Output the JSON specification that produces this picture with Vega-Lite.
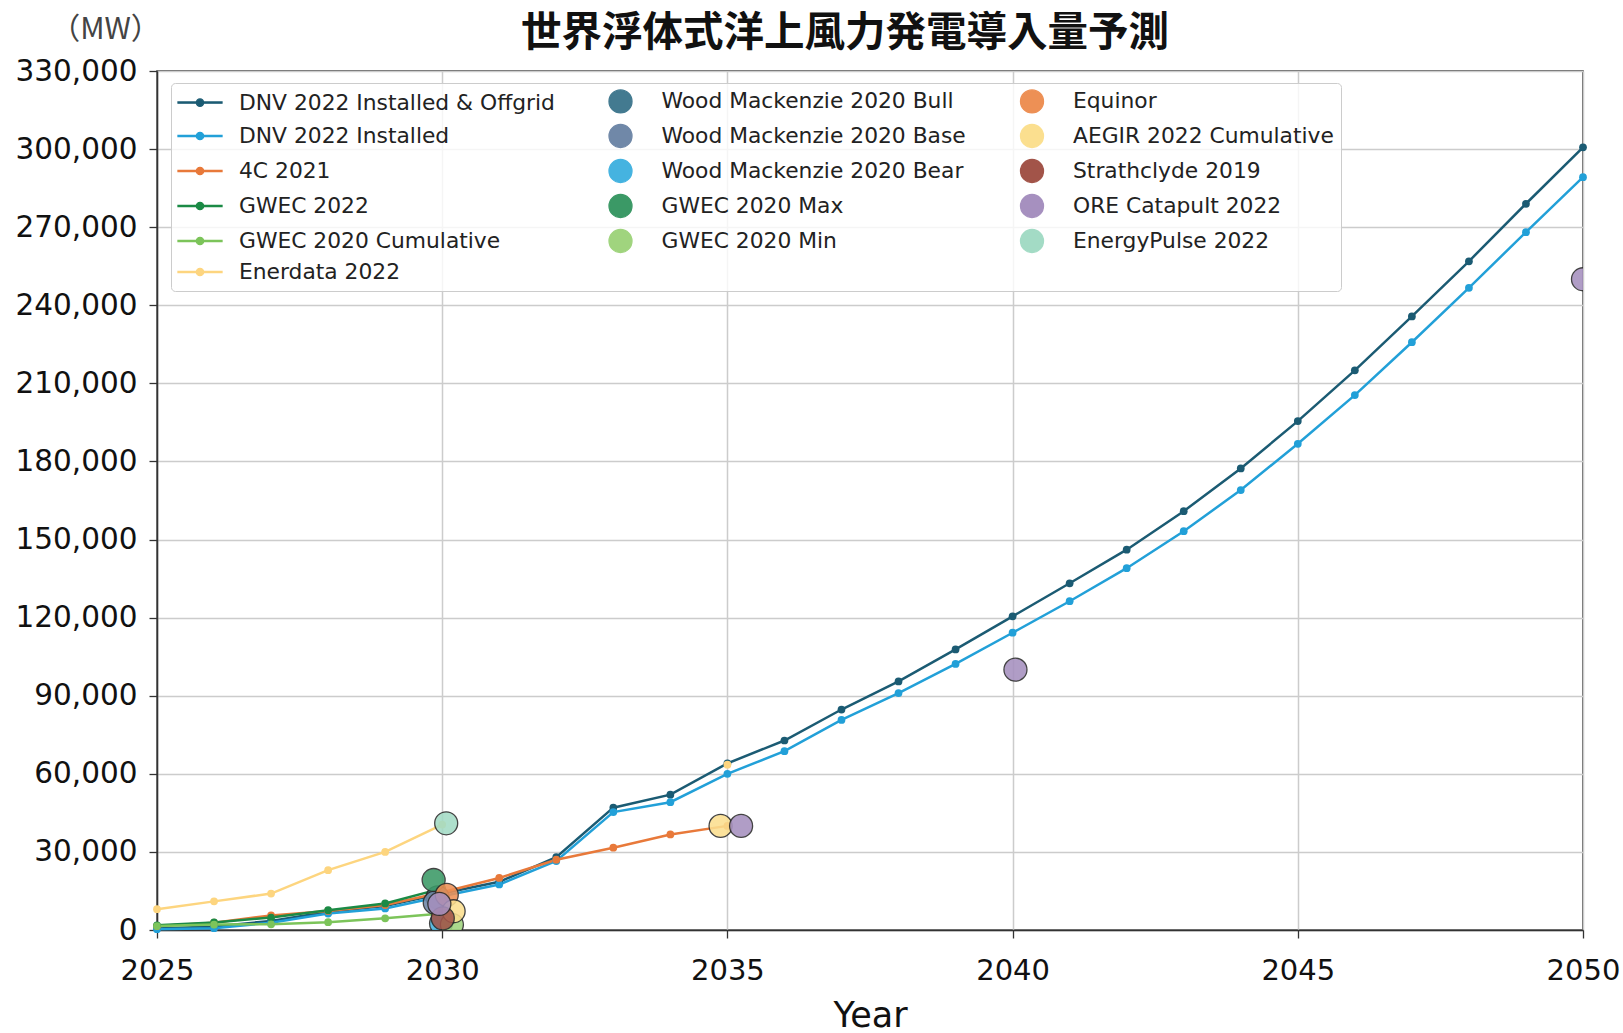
{
  "$schema": "https://vega.github.io/schema/vega-lite/v6.json",
  "autosize": {"type": "none"},
  "width": 1426,
  "height": 859,
  "padding": {"left": 157, "top": 71, "right": 40, "bottom": 103},
  "background": "white",
  "config": {
    "view": {"stroke": "#333333", "strokeWidth": 1.5},
    "axis": {
      "labelFont": "DejaVu Sans",
      "labelFontSize": 29,
      "labelColor": "#111111",
      "titleFont": "DejaVu Sans",
      "titleFontWeight": "normal",
      "titleColor": "#111111",
      "gridColor": "#cccccc",
      "gridWidth": 1.5,
      "domainColor": "#333333",
      "domainWidth": 1.5,
      "tickColor": "#333333",
      "tickSize": 8,
      "tickWidth": 1.3,
      "labelFlush": false,
      "labelOverlap": false,
      "labelBound": false
    },
    "legend": {
      "columnPadding": 45.5,
      "rowPadding": 5,
      "padding": 7,
      "fillColor": "rgba(255,255,255,0.8)",
      "strokeColor": "#cccccc",
      "cornerRadius": 4,
      "labelFont": "DejaVu Sans",
      "labelFontSize": 21.8,
      "labelColor": "#222222",
      "labelLimit": 600,
      "labelOffset": 39,
      "symbolSize": 400,
      "symbolStrokeWidth": 1.3,
      "symbolOpacity": 1
    }
  },
  "title": {
    "text": "世界浮体式洋上風力発電導入量予測",
    "font": "Noto Sans CJK JP",
    "fontSize": 40.5,
    "fontWeight": "bold",
    "color": "#111111",
    "anchor": "middle",
    "dx": -25,
    "offset": -40
  },
  "data": {
    "values": [
      {"series": "DNV 2022 Installed & Offgrid", "kind": "line", "year": 2025, "value": 600},
      {"series": "DNV 2022 Installed & Offgrid", "kind": "line", "year": 2026, "value": 1300},
      {"series": "DNV 2022 Installed & Offgrid", "kind": "line", "year": 2027, "value": 3500},
      {"series": "DNV 2022 Installed & Offgrid", "kind": "line", "year": 2028, "value": 7000},
      {"series": "DNV 2022 Installed & Offgrid", "kind": "line", "year": 2029, "value": 9200},
      {"series": "DNV 2022 Installed & Offgrid", "kind": "line", "year": 2030, "value": 14000},
      {"series": "DNV 2022 Installed & Offgrid", "kind": "line", "year": 2031, "value": 18500},
      {"series": "DNV 2022 Installed & Offgrid", "kind": "line", "year": 2032, "value": 28000},
      {"series": "DNV 2022 Installed & Offgrid", "kind": "line", "year": 2033, "value": 47000},
      {"series": "DNV 2022 Installed & Offgrid", "kind": "line", "year": 2034, "value": 52000},
      {"series": "DNV 2022 Installed & Offgrid", "kind": "line", "year": 2035, "value": 64000},
      {"series": "DNV 2022 Installed & Offgrid", "kind": "line", "year": 2036, "value": 72800},
      {"series": "DNV 2022 Installed & Offgrid", "kind": "line", "year": 2037, "value": 84700},
      {"series": "DNV 2022 Installed & Offgrid", "kind": "line", "year": 2038, "value": 95500},
      {"series": "DNV 2022 Installed & Offgrid", "kind": "line", "year": 2039, "value": 107800},
      {"series": "DNV 2022 Installed & Offgrid", "kind": "line", "year": 2040, "value": 120500},
      {"series": "DNV 2022 Installed & Offgrid", "kind": "line", "year": 2041, "value": 133200},
      {"series": "DNV 2022 Installed & Offgrid", "kind": "line", "year": 2042, "value": 146100},
      {"series": "DNV 2022 Installed & Offgrid", "kind": "line", "year": 2043, "value": 160900},
      {"series": "DNV 2022 Installed & Offgrid", "kind": "line", "year": 2044, "value": 177300},
      {"series": "DNV 2022 Installed & Offgrid", "kind": "line", "year": 2045, "value": 195500},
      {"series": "DNV 2022 Installed & Offgrid", "kind": "line", "year": 2046, "value": 215000},
      {"series": "DNV 2022 Installed & Offgrid", "kind": "line", "year": 2047, "value": 235700},
      {"series": "DNV 2022 Installed & Offgrid", "kind": "line", "year": 2048, "value": 256900},
      {"series": "DNV 2022 Installed & Offgrid", "kind": "line", "year": 2049, "value": 279000},
      {"series": "DNV 2022 Installed & Offgrid", "kind": "line", "year": 2050, "value": 300700},

      {"series": "DNV 2022 Installed", "kind": "line", "year": 2025, "value": 300},
      {"series": "DNV 2022 Installed", "kind": "line", "year": 2026, "value": 700},
      {"series": "DNV 2022 Installed", "kind": "line", "year": 2027, "value": 2800},
      {"series": "DNV 2022 Installed", "kind": "line", "year": 2028, "value": 6300},
      {"series": "DNV 2022 Installed", "kind": "line", "year": 2029, "value": 8300},
      {"series": "DNV 2022 Installed", "kind": "line", "year": 2030, "value": 13000},
      {"series": "DNV 2022 Installed", "kind": "line", "year": 2031, "value": 17500},
      {"series": "DNV 2022 Installed", "kind": "line", "year": 2032, "value": 26500},
      {"series": "DNV 2022 Installed", "kind": "line", "year": 2033, "value": 45300},
      {"series": "DNV 2022 Installed", "kind": "line", "year": 2034, "value": 49100},
      {"series": "DNV 2022 Installed", "kind": "line", "year": 2035, "value": 60000},
      {"series": "DNV 2022 Installed", "kind": "line", "year": 2036, "value": 68700},
      {"series": "DNV 2022 Installed", "kind": "line", "year": 2037, "value": 80700},
      {"series": "DNV 2022 Installed", "kind": "line", "year": 2038, "value": 91000},
      {"series": "DNV 2022 Installed", "kind": "line", "year": 2039, "value": 102200},
      {"series": "DNV 2022 Installed", "kind": "line", "year": 2040, "value": 114200},
      {"series": "DNV 2022 Installed", "kind": "line", "year": 2041, "value": 126300},
      {"series": "DNV 2022 Installed", "kind": "line", "year": 2042, "value": 139000},
      {"series": "DNV 2022 Installed", "kind": "line", "year": 2043, "value": 153200},
      {"series": "DNV 2022 Installed", "kind": "line", "year": 2044, "value": 169000},
      {"series": "DNV 2022 Installed", "kind": "line", "year": 2045, "value": 186800},
      {"series": "DNV 2022 Installed", "kind": "line", "year": 2046, "value": 205500},
      {"series": "DNV 2022 Installed", "kind": "line", "year": 2047, "value": 225800},
      {"series": "DNV 2022 Installed", "kind": "line", "year": 2048, "value": 246700},
      {"series": "DNV 2022 Installed", "kind": "line", "year": 2049, "value": 268100},
      {"series": "DNV 2022 Installed", "kind": "line", "year": 2050, "value": 289200},

      {"series": "4C 2021", "kind": "line", "year": 2025, "value": 1500},
      {"series": "4C 2021", "kind": "line", "year": 2026, "value": 2800},
      {"series": "4C 2021", "kind": "line", "year": 2027, "value": 5600},
      {"series": "4C 2021", "kind": "line", "year": 2028, "value": 7300},
      {"series": "4C 2021", "kind": "line", "year": 2029, "value": 9600},
      {"series": "4C 2021", "kind": "line", "year": 2030, "value": 14500},
      {"series": "4C 2021", "kind": "line", "year": 2031, "value": 20000},
      {"series": "4C 2021", "kind": "line", "year": 2032, "value": 27000},
      {"series": "4C 2021", "kind": "line", "year": 2033, "value": 31600},
      {"series": "4C 2021", "kind": "line", "year": 2034, "value": 36700},
      {"series": "4C 2021", "kind": "line", "year": 2035, "value": 40000},

      {"series": "GWEC 2022", "kind": "line", "year": 2025, "value": 1800},
      {"series": "GWEC 2022", "kind": "line", "year": 2026, "value": 2900},
      {"series": "GWEC 2022", "kind": "line", "year": 2027, "value": 4800},
      {"series": "GWEC 2022", "kind": "line", "year": 2028, "value": 7600},
      {"series": "GWEC 2022", "kind": "line", "year": 2029, "value": 10200},
      {"series": "GWEC 2022", "kind": "line", "year": 2030, "value": 16000},

      {"series": "GWEC 2020 Cumulative", "kind": "line", "year": 2025, "value": 1500},
      {"series": "GWEC 2020 Cumulative", "kind": "line", "year": 2026, "value": 2100},
      {"series": "GWEC 2020 Cumulative", "kind": "line", "year": 2027, "value": 2200},
      {"series": "GWEC 2020 Cumulative", "kind": "line", "year": 2028, "value": 3000},
      {"series": "GWEC 2020 Cumulative", "kind": "line", "year": 2029, "value": 4500},
      {"series": "GWEC 2020 Cumulative", "kind": "line", "year": 2030, "value": 6300},

      {"series": "Enerdata 2022", "kind": "line", "part": "a", "year": 2025, "value": 8000},
      {"series": "Enerdata 2022", "kind": "line", "part": "a", "year": 2026, "value": 11000},
      {"series": "Enerdata 2022", "kind": "line", "part": "a", "year": 2027, "value": 14000},
      {"series": "Enerdata 2022", "kind": "line", "part": "a", "year": 2028, "value": 23000},
      {"series": "Enerdata 2022", "kind": "line", "part": "a", "year": 2029, "value": 30000},
      {"series": "Enerdata 2022", "kind": "line", "part": "a", "year": 2030, "value": 40500},
      {"series": "Enerdata 2022", "kind": "line", "part": "b", "year": 2035, "value": 63500},

      {"series": "Wood Mackenzie 2020 Bull", "kind": "point", "year": 2029.92, "value": 12500},
      {"series": "Wood Mackenzie 2020 Base", "kind": "point", "year": 2029.87, "value": 10500},
      {"series": "Wood Mackenzie 2020 Bear", "kind": "point", "year": 2029.98, "value": 2500},
      {"series": "GWEC 2020 Max", "kind": "point", "year": 2029.85, "value": 19200},
      {"series": "GWEC 2020 Min", "kind": "point", "year": 2030.17, "value": 2000},
      {"series": "Equinor", "kind": "point", "year": 2030.08, "value": 13500},
      {"series": "AEGIR 2022 Cumulative", "kind": "point", "year": 2030.2, "value": 7200},
      {"series": "AEGIR 2022 Cumulative", "kind": "point", "year": 2034.88, "value": 40000},
      {"series": "Strathclyde 2019", "kind": "point", "year": 2030.01, "value": 4500},
      {"series": "ORE Catapult 2022", "kind": "point", "year": 2029.95, "value": 10000},
      {"series": "ORE Catapult 2022", "kind": "point", "year": 2035.24, "value": 40000},
      {"series": "ORE Catapult 2022", "kind": "point", "year": 2040.05, "value": 100000},
      {"series": "ORE Catapult 2022", "kind": "point", "year": 2050, "value": 250000},
      {"series": "EnergyPulse 2022", "kind": "point", "year": 2030.07, "value": 41000}
    ]
  },
  "encoding": {
    "x": {
      "field": "year",
      "type": "quantitative",
      "scale": {"domain": [2025, 2050], "nice": false, "zero": false},
      "axis": {
        "values": [2025, 2030, 2035, 2040, 2045, 2050],
        "format": "d",
        "title": "Year",
        "titleFontSize": 35,
        "titlePadding": 13,
        "labelPadding": 18
      }
    },
    "y": {
      "field": "value",
      "type": "quantitative",
      "scale": {"domain": [0, 330000], "nice": false},
      "axis": {
        "values": [0, 30000, 60000, 90000, 120000, 150000, 180000, 210000, 240000, 270000, 300000, 330000],
        "format": ",d",
        "labelFontSize": 29.5,
        "labelPadding": 12,
        "title": "（MW）",
        "titleFont": "Noto Sans CJK JP",
        "titleFontSize": 30,
        "titleColor": "#444444",
        "titleAngle": 0,
        "titleAlign": "center",
        "titleBaseline": "middle",
        "titleX": -52,
        "titleY": -42
      }
    },
    "color": {
      "field": "series",
      "type": "nominal",
      "scale": {
        "domain": [
          "DNV 2022 Installed & Offgrid", "DNV 2022 Installed", "4C 2021", "GWEC 2022", "GWEC 2020 Cumulative", "EnergyPulse 2022",
          "Wood Mackenzie 2020 Bull", "Wood Mackenzie 2020 Base", "Wood Mackenzie 2020 Bear", "GWEC 2020 Max", "GWEC 2020 Min", "Enerdata 2022",
          "Equinor", "AEGIR 2022 Cumulative", "Strathclyde 2019", "ORE Catapult 2022"
        ],
        "range": [
          "#1b5b73", "#22a0d8", "#e8793a", "#1b8a45", "#7cc45a", "#a3dbc5",
          "#437a90", "#7088a8", "#45b3e0", "#3b9966", "#a0d47e", "#fdd57f",
          "#ed9055", "#fbdf8f", "#a25449", "#a690bf"
        ]
      },
      "legend": {"title": null, "orient": "none", "legendX": 14, "legendY": 12, "columns": 3}
    }
  },
  "layer": [
    {
      "transform": [{"filter": "datum.kind === 'line'"}],
      "mark": {"type": "line", "strokeWidth": 2.5, "point": {"filled": true, "size": 60, "opacity": 1}},
      "encoding": {
        "detail": {"field": "part", "type": "nominal"}
      }
    },
    {
      "transform": [{"filter": "datum.kind === 'point'"}],
      "mark": {"type": "point", "shape": "circle", "filled": true, "size": 529, "stroke": "#2a2a2a", "strokeWidth": 1.3, "opacity": 0.88, "clip": true}
    },
    {
      "transform": [{"filter": "datum.kind === 'legend-only'"}],
      "mark": {"type": "point", "filled": true, "size": 400, "strokeWidth": 1.3},
      "encoding": {
        "shape": {
          "field": "series",
          "type": "nominal",
          "scale": {
            "domain": [
              "DNV 2022 Installed & Offgrid", "DNV 2022 Installed", "4C 2021", "GWEC 2022", "GWEC 2020 Cumulative", "EnergyPulse 2022",
              "Wood Mackenzie 2020 Bull", "Wood Mackenzie 2020 Base", "Wood Mackenzie 2020 Bear", "GWEC 2020 Max", "GWEC 2020 Min", "Enerdata 2022",
              "Equinor", "AEGIR 2022 Cumulative", "Strathclyde 2019", "ORE Catapult 2022"
            ],
            "range": [
              "M-1.1,-0.06H3.3V0.06H-1.1ZM1.47,0A0.37,0.37 0 1 1 0.73,0A0.37,0.37 0 1 1 1.47,0Z",
              "M-1.1,-0.06H3.3V0.06H-1.1ZM1.47,0A0.37,0.37 0 1 1 0.73,0A0.37,0.37 0 1 1 1.47,0Z",
              "M-1.1,-0.06H3.3V0.06H-1.1ZM1.47,0A0.37,0.37 0 1 1 0.73,0A0.37,0.37 0 1 1 1.47,0Z",
              "M-1.1,-0.06H3.3V0.06H-1.1ZM1.47,0A0.37,0.37 0 1 1 0.73,0A0.37,0.37 0 1 1 1.47,0Z",
              "M-1.1,-0.06H3.3V0.06H-1.1ZM1.47,0A0.37,0.37 0 1 1 0.73,0A0.37,0.37 0 1 1 1.47,0Z",
              "M2.05,0A1.15,1.15 0 1 1 -0.25,0A1.15,1.15 0 1 1 2.05,0Z",
              "M2.05,0A1.15,1.15 0 1 1 -0.25,0A1.15,1.15 0 1 1 2.05,0Z",
              "M2.05,0A1.15,1.15 0 1 1 -0.25,0A1.15,1.15 0 1 1 2.05,0Z",
              "M2.05,0A1.15,1.15 0 1 1 -0.25,0A1.15,1.15 0 1 1 2.05,0Z",
              "M2.05,0A1.15,1.15 0 1 1 -0.25,0A1.15,1.15 0 1 1 2.05,0Z",
              "M2.05,0A1.15,1.15 0 1 1 -0.25,0A1.15,1.15 0 1 1 2.05,0Z",
              "M-1.1,-0.06H3.3V0.06H-1.1ZM1.47,0A0.37,0.37 0 1 1 0.73,0A0.37,0.37 0 1 1 1.47,0Z",
              "M2.05,0A1.15,1.15 0 1 1 -0.25,0A1.15,1.15 0 1 1 2.05,0Z",
              "M2.05,0A1.15,1.15 0 1 1 -0.25,0A1.15,1.15 0 1 1 2.05,0Z",
              "M2.05,0A1.15,1.15 0 1 1 -0.25,0A1.15,1.15 0 1 1 2.05,0Z",
              "M2.05,0A1.15,1.15 0 1 1 -0.25,0A1.15,1.15 0 1 1 2.05,0Z"
            ]
          },
          "legend": {"title": null, "orient": "none", "legendX": 14, "legendY": 12, "columns": 3}
        },
        "stroke": {
          "field": "series",
          "type": "nominal",
          "scale": {
            "domain": [
              "DNV 2022 Installed & Offgrid", "DNV 2022 Installed", "4C 2021", "GWEC 2022", "GWEC 2020 Cumulative", "EnergyPulse 2022",
              "Wood Mackenzie 2020 Bull", "Wood Mackenzie 2020 Base", "Wood Mackenzie 2020 Bear", "GWEC 2020 Max", "GWEC 2020 Min", "Enerdata 2022",
              "Equinor", "AEGIR 2022 Cumulative", "Strathclyde 2019", "ORE Catapult 2022"
            ],
            "range": [
              "#1b5b73", "#22a0d8", "#e8793a", "#1b8a45", "#7cc45a", "#2a2a2a",
              "#2a2a2a", "#2a2a2a", "#2a2a2a", "#2a2a2a", "#2a2a2a", "#fdd57f",
              "#2a2a2a", "#2a2a2a", "#2a2a2a", "#2a2a2a"
            ]
          },
          "legend": {"title": null, "orient": "none", "legendX": 14, "legendY": 12, "columns": 3}
        }
      }
    }
  ]
}
